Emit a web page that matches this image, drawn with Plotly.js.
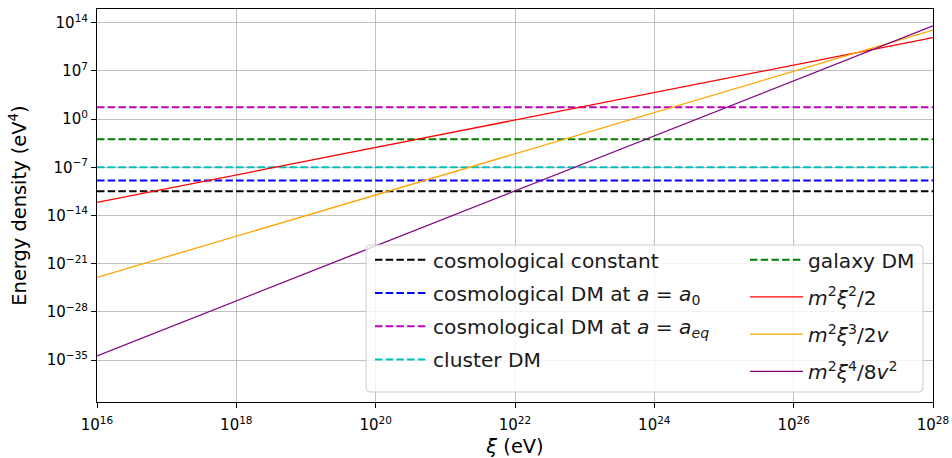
<!DOCTYPE html>
<html>
<head>
<meta charset="utf-8">
<script src="https://cdn.plot.ly/plotly-3.0.1.min.js"></script>
<style>
  html, body { margin: 0; padding: 0; background: #ffffff; }
  #chart { width: 952px; height: 458px; }
</style>
</head>
<body>
<div id="chart"></div>
<script>
// ---- data ----
const xiEnds = [1e16, 1e28];                 // ξ (eV), axis extent
const rhoLambda  = [3.3e-11, 3.3e-11];       // cosmological constant
const rhoDM0     = [1.2e-9, 1.2e-9];         // cosmological DM at a = a0
const rhoDMeq    = [55, 55];                 // cosmological DM at a = a_eq
const rhoCluster = [1.0e-7, 1.0e-7];         // cluster DM
const rhoGalaxy  = [1.15e-3, 1.15e-3];       // galaxy DM
const rhoXi2     = [8e-13, 7e11];            // m²ξ²/2
const rhoXi3     = [1e-23, 8.7e12];          // m²ξ³/2v
const rhoXi4     = [4e-35, 3.5e13];          // m²ξ⁴/8v²

const names = [
  "cosmological constant",
  "cosmological DM at <i>a</i> = <i>a</i><sub>0</sub>",
  "cosmological DM at <i>a</i> = <i>a</i><sub><i>eq</i></sub>",
  "cluster DM",
  "galaxy DM",
  "<i>m</i><sup>2</sup><i>ξ</i><sup>2</sup>/2",
  "<i>m</i><sup>2</sup><i>ξ</i><sup>3</sup>/2<i>v</i>",
  "<i>m</i><sup>2</sup><i>ξ</i><sup>4</sup>/8<i>v</i><sup>2</sup>"
];

const yTickVals = [1e-35, 1e-28, 1e-21, 1e-14, 1e-7, 1e0, 1e7, 1e14];
const yTickText = ["10<sup>−35</sup>","10<sup>−28</sup>","10<sup>−21</sup>","10<sup>−14</sup>",
                   "10<sup>−7</sup>","10<sup>0</sup>","10<sup>7</sup>","10<sup>14</sup>"];
const xTickVals = [1e16, 1e18, 1e20, 1e22, 1e24, 1e26, 1e28];
const xTickText = ["10<sup>16</sup>","10<sup>18</sup>","10<sup>20</sup>","10<sup>22</sup>",
                   "10<sup>24</sup>","10<sup>26</sup>","10<sup>28</sup>"];

// ---- styling ----
const FONT = "DejaVu Sans, Liberation Sans, sans-serif";
const dashStyle = "7.5px,3.2px";
const series = [
  {y: rhoLambda,  color: "#000000", dash: dashStyle, w: 2.0, leg: "legend"},
  {y: rhoDM0,     color: "#0000ff", dash: dashStyle, w: 2.0, leg: "legend"},
  {y: rhoDMeq,    color: "#bf00bf", dash: dashStyle, w: 2.0, leg: "legend"},
  {y: rhoCluster, color: "#00bfbf", dash: dashStyle, w: 2.0, leg: "legend"},
  {y: rhoGalaxy,  color: "#008000", dash: dashStyle, w: 2.0, leg: "legend2"},
  {y: rhoXi2,     color: "#ff0000", dash: "solid",  w: 1.3, leg: "legend2"},
  {y: rhoXi3,     color: "#ffa500", dash: "solid",  w: 1.3, leg: "legend2"},
  {y: rhoXi4,     color: "#800080", dash: "solid",  w: 1.3, leg: "legend2"}
];

const traces = series.map((s, i) => ({
  type: "scatter", mode: "lines",
  x: xiEnds, y: s.y, name: names[i],
  line: {color: s.color, width: s.w, dash: s.dash},
  legend: s.leg, legendgroup: "g" + i,
  hoverinfo: "skip"
}));

// plot area in px: x 97..933, y 9..402
const L = 97, R = 933, T = 9, B = 402;
const W = R - L, H = B - T;
const px = v => (v - L) / W;
const py = v => (B - v) / H;

// legend box (px)
const bx0 = 366, bx1 = 923, by0 = 245, by1 = 392, rad = 4;
const rx = rad / W, ry = rad / H;
const X0 = px(bx0), X1 = px(bx1), Y0 = py(by1), Y1 = py(by0);
const boxPath = `M ${X0+rx},${Y0} L ${X1-rx},${Y0} Q ${X1},${Y0} ${X1},${Y0+ry} ` +
                `L ${X1},${Y1-ry} Q ${X1},${Y1} ${X1-rx},${Y1} L ${X0+rx},${Y1} ` +
                `Q ${X0},${Y1} ${X0},${Y1-ry} L ${X0},${Y0+ry} Q ${X0},${Y0} ${X0+rx},${Y0} Z`;

const axisCommon = {
  type: "log",
  showline: true, mirror: true, linecolor: "#000000", linewidth: 1,
  ticks: "outside", ticklen: 5, tickwidth: 1, tickcolor: "#000000",
  showgrid: true, gridcolor: "#b0b0b0", gridwidth: 0.8,
  zeroline: false,
  tickfont: {family: FONT, size: 15, color: "#000000"}
};

const layout = {
  width: 952, height: 458,
  margin: {l: L, r: 952 - R, t: T, b: 458 - B},
  paper_bgcolor: "#ffffff", plot_bgcolor: "#ffffff",
  font: {family: FONT, color: "#000000"},
  showlegend: true,
  xaxis: Object.assign({}, axisCommon, {
    range: [16, 28],
    tickmode: "array", tickvals: xTickVals, ticktext: xTickText,
    ticklabelstandoff: 4,
    title: {text: "<i>ξ</i> (eV)", font: {family: FONT, size: 19.4}, standoff: 9}
  }),
  yaxis: Object.assign({}, axisCommon, {
    range: [-41.1, 16],
    tickmode: "array", tickvals: yTickVals, ticktext: yTickText,
    title: {text: "Energy density (eV<sup>4</sup>)", font: {family: FONT, size: 19.4}, standoff: 14}
  }),
  legend: {
    x: px(370), y: py(240), xanchor: "left", yanchor: "top",
    bgcolor: "rgba(0,0,0,0)", borderwidth: 0, itemwidth: 53,
    font: {family: FONT, size: 20.2, color: "#1a1a1a"},
    traceorder: "grouped", tracegroupgap: 4
  },
  legend2: {
    x: px(745), y: py(240), xanchor: "left", yanchor: "top",
    bgcolor: "rgba(0,0,0,0)", borderwidth: 0, itemwidth: 53,
    font: {family: FONT, size: 20.2, color: "#1a1a1a"},
    traceorder: "grouped", tracegroupgap: 8
  },
  shapes: [{
    type: "path", xref: "paper", yref: "paper", path: boxPath,
    fillcolor: "rgba(255,255,255,0.8)",
    line: {color: "#cccccc", width: 1}, layer: "above"
  }]
};

Plotly.newPlot("chart", traces, layout, {displayModeBar: false, staticPlot: true});
</script>
</body>
</html>
